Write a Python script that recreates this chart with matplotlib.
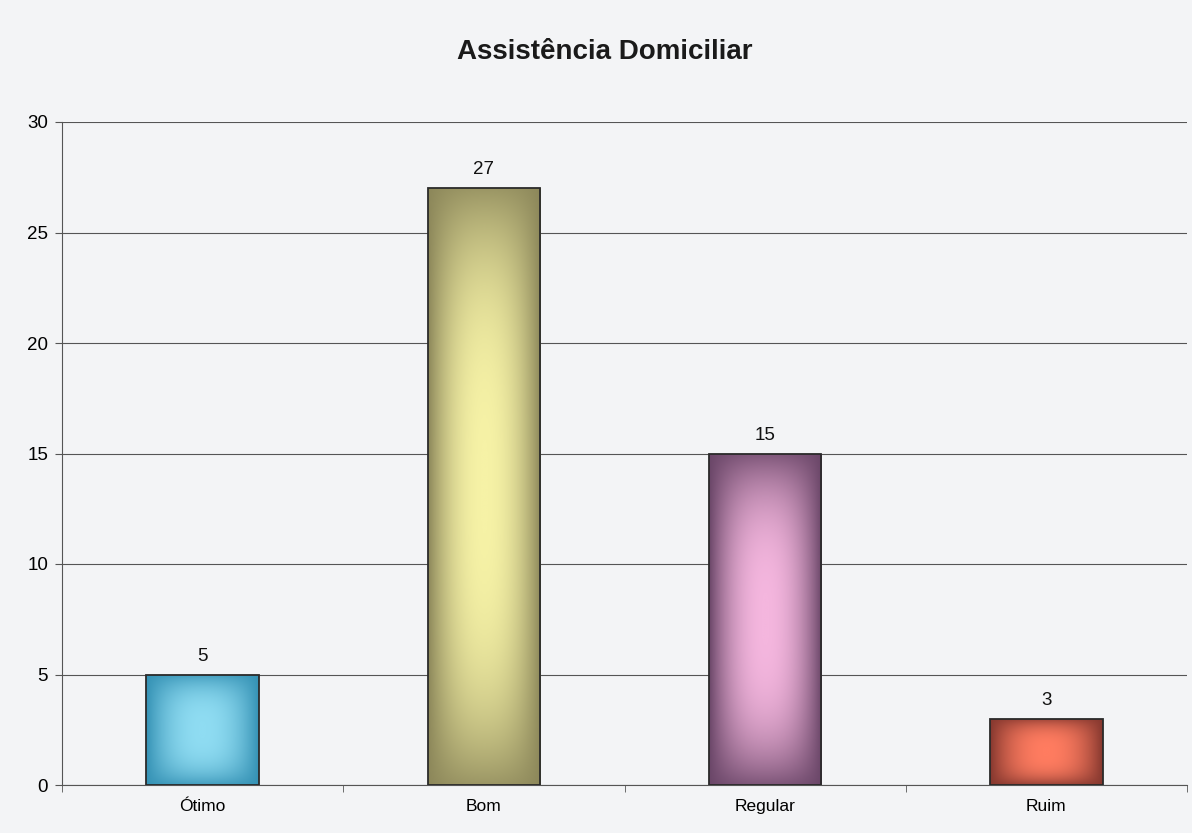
import numpy as np
import matplotlib
matplotlib.use("Agg")
import matplotlib.pyplot as plt
from matplotlib.colors import LinearSegmentedColormap

categories = ["Ótimo", "Bom", "Regular", "Ruim"]
values = [5, 27, 15, 3]
title = "Assistência Domiciliar"
yticks = [0, 5, 10, 15, 20, 25, 30]
# (edge/dark colour, centre/light colour) per bar
bar_colors = [("#3592b5", "#8fdcf2"),
              ("#8c875a", "#f6f2a6"),
              ("#6a4668", "#f4b6de"),
              ("#86382f", "#ff7c60")]

plt.rcParams['font.family'] = ['Liberation Sans', 'DejaVu Sans']
bg = "#f3f4f6"
fig = plt.figure(figsize=(11.92, 8.33), dpi=100, facecolor=bg)
ax = fig.add_axes([62/1192, 1-785/833, (1187-62)/1192, (785-122)/833])
ax.set_facecolor(bg)

x = np.arange(len(categories))
bars = ax.bar(x, values, width=0.4, edgecolor="#2a2a2a", linewidth=1.3,
              facecolor="none", zorder=3)

# smooth gradient fill inside each bar (light centre, darker edges)
n = 200
u = np.linspace(-1, 1, n)
U, V = np.meshgrid(u, u)
d = 1 - (1 - np.abs(U) ** 2.2) * (1 - 0.85 * np.abs(V) ** 3)
for b, (dark, light), val in zip(bars, bar_colors, values):
    x0, y0 = b.get_x(), b.get_y()
    w, h = b.get_width(), b.get_height()
    cmap = LinearSegmentedColormap.from_list("g", [light, dark])
    im = ax.imshow(d, cmap=cmap, vmin=0, vmax=1, extent=[x0, x0 + w, y0, y0 + h],
                   aspect="auto", origin="lower", zorder=2, interpolation="bilinear")
    im.set_clip_path(b)
    ax.text(x0 + w / 2, y0 + h + 0.45, f"{val}",
            ha="center", va="bottom", fontsize=13.5, color="#111111", zorder=4)

ax.set_xlim(-0.5, len(categories) - 0.5)
ax.set_ylim(0, 30)
ax.set_yticks(yticks)
ax.set_yticklabels([str(t) for t in yticks], fontsize=13.5)
ax.set_xticks(x)
ax.set_xticklabels(categories, fontsize=12.5)
ax.tick_params(axis="x", length=0, pad=10)
ax.set_xticks(np.arange(len(categories) + 1) - 0.5, minor=True)
ax.tick_params(axis="x", which="minor", length=5, color="#555555", direction="out")
ax.tick_params(axis="y", length=5, color="#555555", direction="out", pad=5)

ax.yaxis.grid(True, color="#555555", linewidth=0.8, zorder=1)
ax.set_axisbelow(True)
for s in ["top", "right"]:
    ax.spines[s].set_visible(False)
ax.spines["left"].set_color("#555555")
ax.spines["bottom"].set_color("#555555")

fig.text(605/1192, 1 - 52/833, title, ha="center", va="center",
         fontsize=20, fontweight="bold", color="#1a1a1a")

fig.savefig("out.png", dpi=100, facecolor=bg)
